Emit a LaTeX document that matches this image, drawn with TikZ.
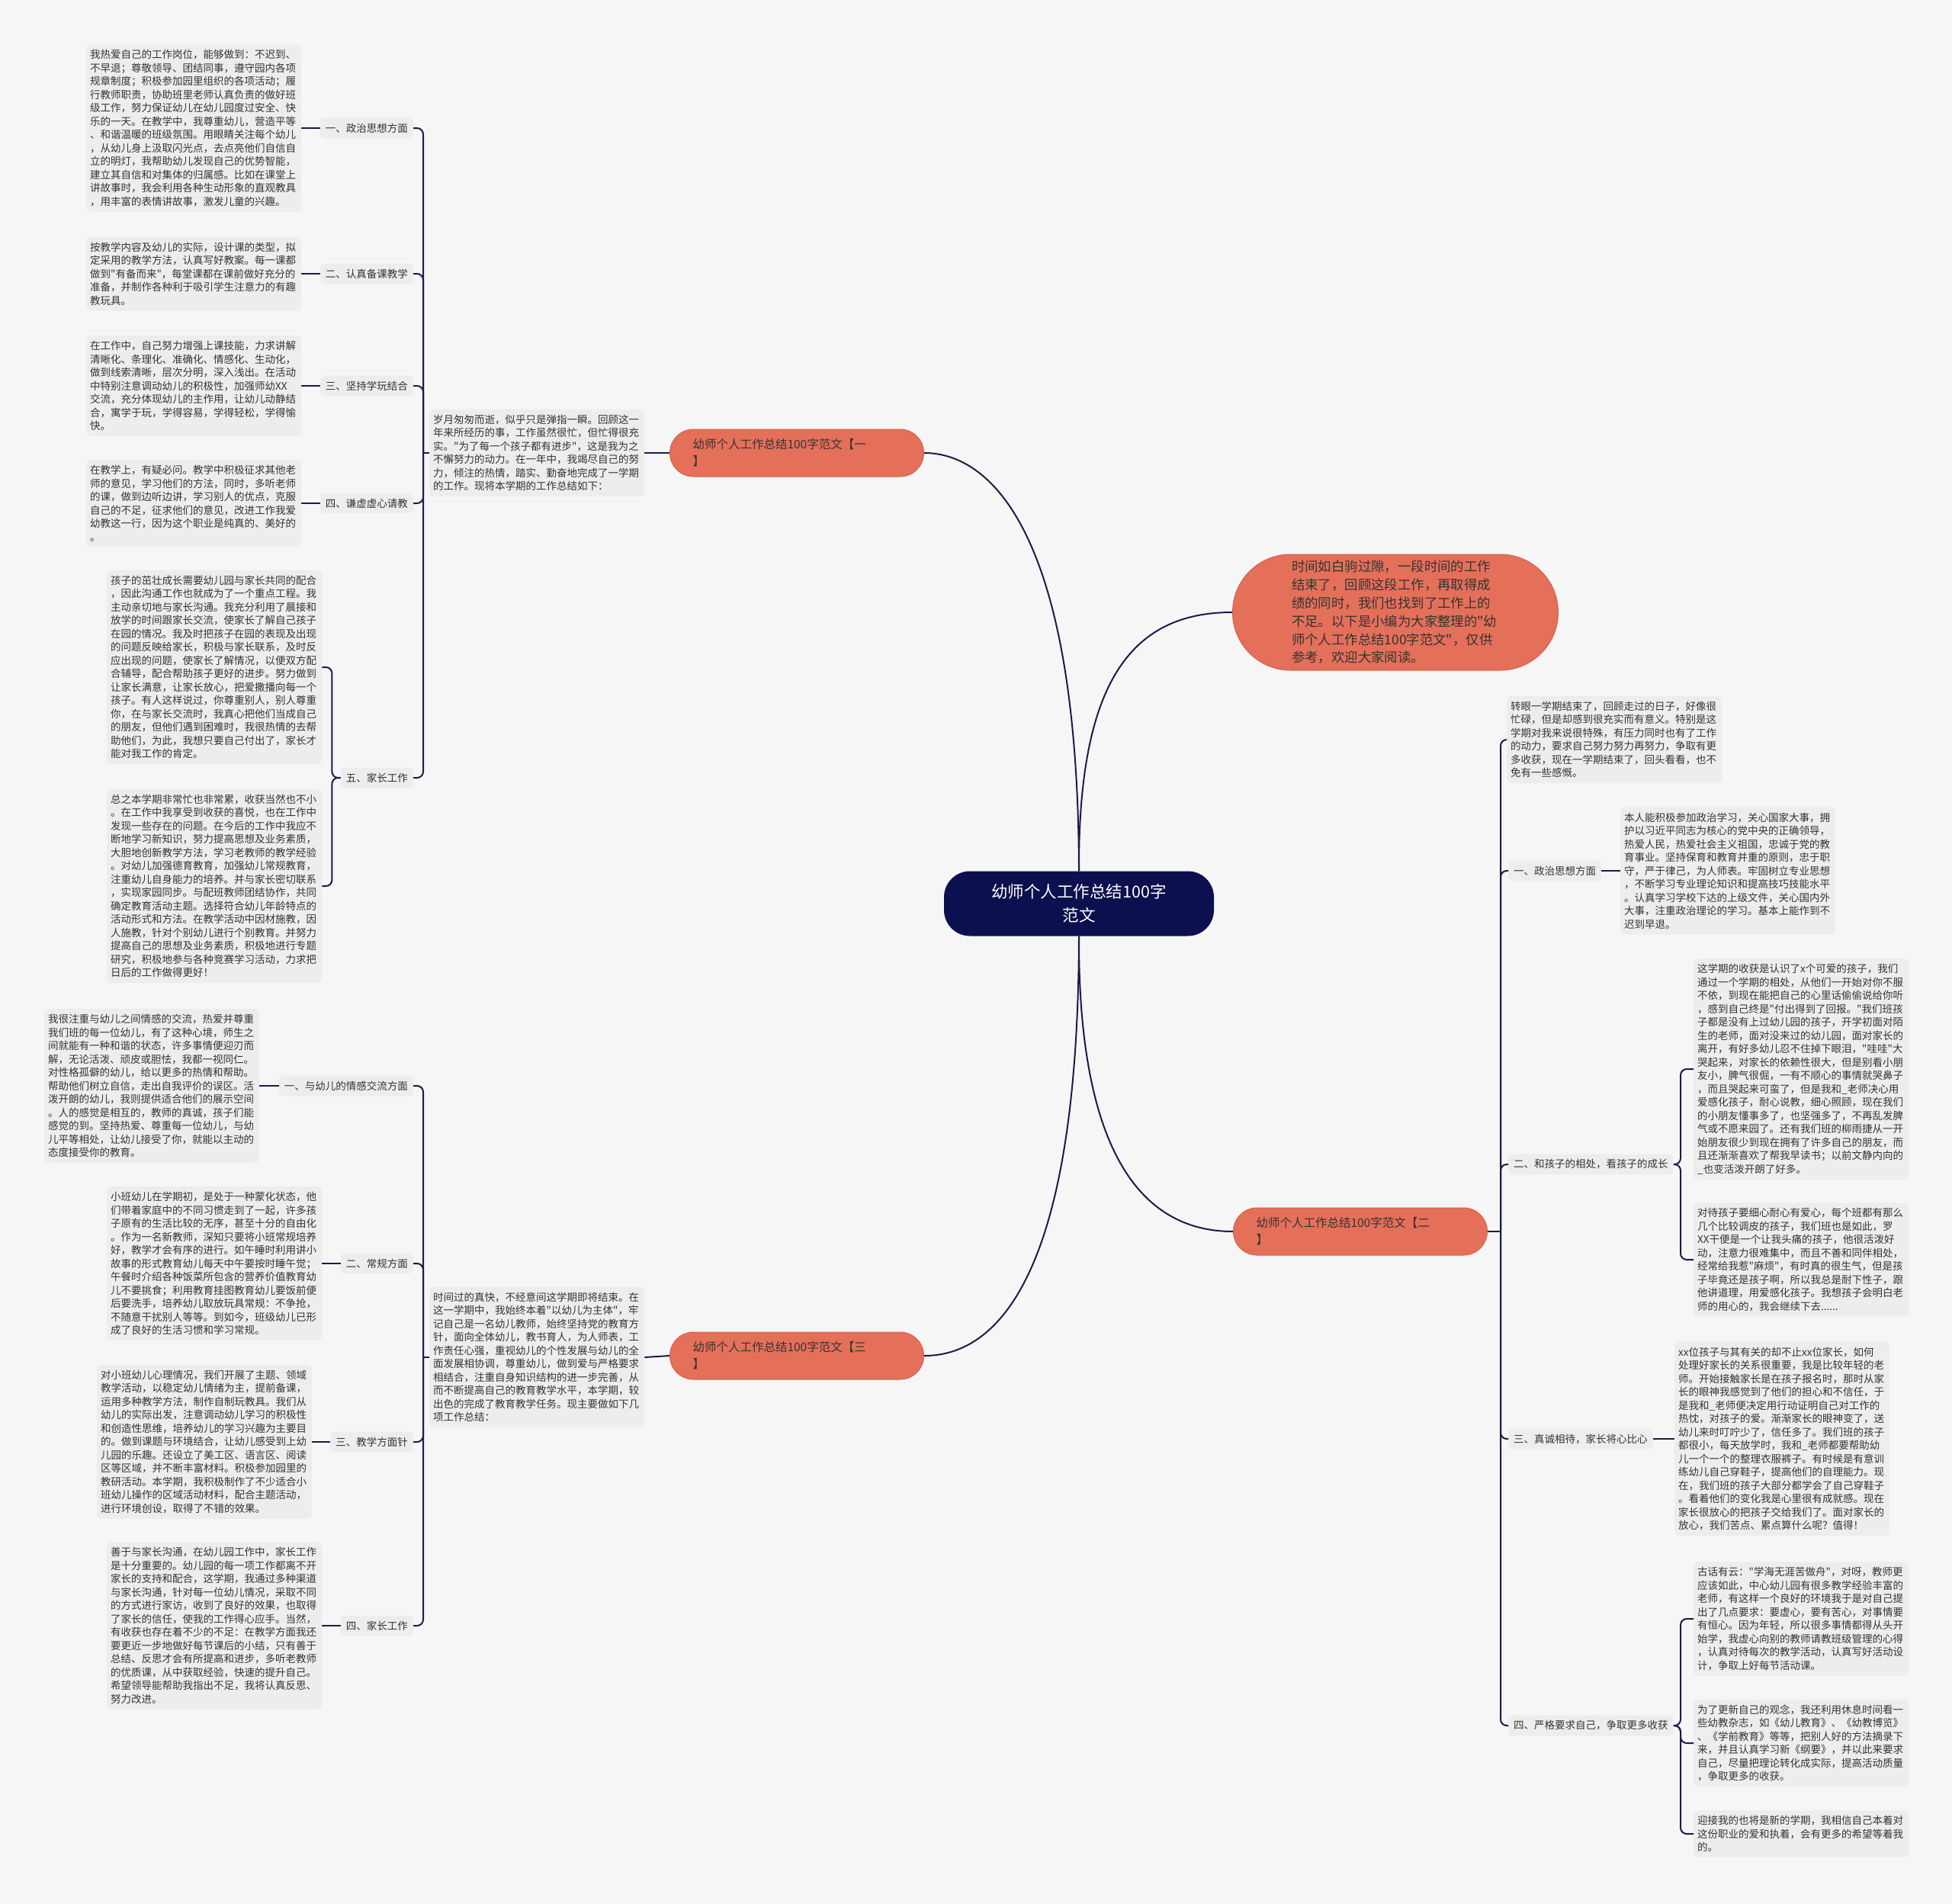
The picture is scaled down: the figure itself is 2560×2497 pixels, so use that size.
\documentclass[tikz,border=0pt]{standalone}
\usepackage{fontspec}
\setmainfont{Noto Sans CJK SC}[Ligatures=TeXOff]
\usepackage{tikz}
\definecolor{mapnavy}{RGB}{12,16,78}
\definecolor{mapline}{RGB}{26,28,74}
\definecolor{maporange}{RGB}{228,112,90}
\definecolor{mapedge}{RGB}{214,98,78}
\definecolor{mapbg}{RGB}{246,246,246}
\definecolor{mapbox}{RGB}{237,237,237}
\definecolor{maptext}{RGB}{51,51,51}
\tikzset{
    link/.style={draw=mapline, line width=2pt, rounded corners=8pt},
    detail/.style={anchor=west, fill=mapbox, rounded corners=6pt, text width=272pt, inner xsep=5pt, inner ysep=7pt, align=left, text=maptext, font=\fontsize{13.5}{17.5}\selectfont},
    tag/.style={fill=mapbox, rounded corners=6pt, inner xsep=7pt, inner ysep=7pt, text=maptext, font=\fontsize{13.5}{17.5}\selectfont}
}

\begin{document}
\begin{tikzpicture}[
    x=1pt, y=-1pt,
    topic/.style={fill=maporange, draw=mapedge, line width=1pt, rounded corners=31pt, minimum width=333pt, minimum height=62pt, text width=273pt, align=left, inner sep=0pt, text=maptext, font=\fontsize{15.5}{22}\selectfont},
    root/.style={fill=mapnavy, text=white, rounded corners=34pt, minimum width=354pt, minimum height=85pt, align=center, font=\fontsize{21.5}{31}\selectfont},
    lead/.style={fill=maporange, draw=mapedge, line width=1pt, rounded corners=76pt, minimum width=427pt, minimum height=152pt, text width=272pt, align=left, inner sep=0pt, text=maptext, font=\fontsize{17.4}{23.8}\selectfont}
]
    \useasboundingbox (0,0) rectangle (2560,2497);
    \fill[mapbg] (0,0) rectangle (2560,2497);

    % Centre and main topics
    \node[root] (main) at (1415,1185) {幼师个人工作总结100字\\范文};
    \node[lead] (intro) at (1830,803) {时间如白驹过隙，一段时间的工作\\结束了，回顾这段工作，再取得成\\绩的同时，我们也找到了工作上的\\不足。以下是小编为大家整理的"幼\\师个人工作总结100字范文"，仅供\\参考，欢迎大家阅读。};
    \node[topic] (one) at (1045,594) {幼师个人工作总结100字范文【一\\】};
    \node[topic] (two) at (1784,1615) {幼师个人工作总结100字范文【二\\】};
    \node[topic] (three) at (1045,1778) {幼师个人工作总结100字范文【三\\】};

    \draw[link] (main.north) .. controls (1414,700) and (1300,594) .. (one.east);
    \draw[link] (main.north) .. controls (1414,900) and (1480,803) .. (intro.west);
    \draw[link] (main.south) .. controls (1414,1480) and (1480,1615) .. (two.west);
    \draw[link] (main.south) .. controls (1414,1690) and (1300,1778) .. (three.east);

    % Topic one
    \node[detail] (oneintro) at (563,594) {岁月匆匆而逝，似乎只是弹指一瞬。回顾这一\\年来所经历的事，工作虽然很忙，但忙得很充\\实。"为了每一个孩子都有进步"，这是我为之\\不懈努力的动力。在一年中，我竭尽自己的努\\力，倾注的热情，踏实、勤奋地完成了一学期\\的工作。现将本学期的工作总结如下：};
    \node[detail] (a1) at (113,168) {我热爱自己的工作岗位，能够做到：不迟到、\\不早退；尊敬领导、团结同事，遵守园内各项\\规章制度；积极参加园里组织的各项活动；履\\行教师职责，协助班里老师认真负责的做好班\\级工作，努力保证幼儿在幼儿园度过安全、快\\乐的一天。在教学中，我尊重幼儿，营造平等\\、和谐温暖的班级氛围。用眼睛关注每个幼儿\\，从幼儿身上汲取闪光点，去点亮他们自信自\\立的明灯，我帮助幼儿发现自己的优势智能，\\建立其自信和对集体的归属感。比如在课堂上\\讲故事时，我会利用各种生动形象的直观教具\\，用丰富的表情讲故事，激发儿童的兴趣。};
    \node[detail] (a2) at (113,359) {按教学内容及幼儿的实际，设计课的类型，拟\\定采用的教学方法，认真写好教案。每一课都\\做到"有备而来"，每堂课都在课前做好充分的\\准备，并制作各种利于吸引学生注意力的有趣\\教玩具。};
    \node[detail] (a3) at (113,506) {在工作中，自己努力增强上课技能，力求讲解\\清晰化、条理化、准确化、情感化、生动化，\\做到线索清晰，层次分明，深入浅出。在活动\\中特别注意调动幼儿的积极性，加强师幼XX\\交流，充分体现幼儿的主作用，让幼儿动静结\\合，寓学于玩，学得容易，学得轻松，学得愉\\快。};
    \node[detail] (a4) at (113,660) {在教学上，有疑必问。教学中积极征求其他老\\师的意见，学习他们的方法，同时，多听老师\\的课，做到边听边讲，学习别人的优点，克服\\自己的不足，征求他们的意见，改进工作我爱\\幼教这一行，因为这个职业是纯真的、美好的\\。};
    \node[detail] (a5a) at (140,875) {孩子的茁壮成长需要幼儿园与家长共同的配合\\，因此沟通工作也就成为了一个重点工程。我\\主动亲切地与家长沟通。我充分利用了晨接和\\放学的时间跟家长交流，使家长了解自己孩子\\在园的情况。我及时把孩子在园的表现及出现\\的问题反映给家长，积极与家长联系，及时反\\应出现的问题，使家长了解情况，以便双方配\\合辅导，配合帮助孩子更好的进步。努力做到\\让家长满意，让家长放心，把爱撒播向每一个\\孩子。有人这样说过，你尊重别人，别人尊重\\你，在与家长交流时，我真心把他们当成自己\\的朋友，但他们遇到困难时，我很热情的去帮\\助他们，为此，我想只要自己付出了，家长才\\能对我工作的肯定。};
    \node[detail] (a5b) at (140,1162) {总之本学期非常忙也非常累，收获当然也不小\\。在工作中我享受到收获的喜悦，也在工作中\\发现一些存在的问题。在今后的工作中我应不\\断地学习新知识，努力提高思想及业务素质，\\大胆地创新教学方法，学习老教师的教学经验\\。对幼儿加强德育教育，加强幼儿常规教育，\\注重幼儿自身能力的培养。并与家长密切联系\\，实现家园同步。与配班教师团结协作，共同\\确定教育活动主题。选择符合幼儿年龄特点的\\活动形式和方法。在教学活动中因材施教，因\\人施教，针对个别幼儿进行个别教育。并努力\\提高自己的思想及业务素质，积极地进行专题\\研究，积极地参与各种竞赛学习活动，力求把\\日后的工作做得更好！};

    \node[tag, anchor=east] (ta1) at (542,168) {一、政治思想方面};
    \node[tag, anchor=east] (ta2) at (542,359) {二、认真备课教学};
    \node[tag, anchor=east] (ta3) at (542,506) {三、坚持学玩结合};
    \node[tag, anchor=east] (ta4) at (542,660) {四、谦虚虚心请教};
    \node[tag, anchor=east] (ta5) at (542,1020) {五、家长工作};

    \coordinate (jone) at (555,594);
    \draw[link] (one.west) -- (oneintro.east);
    \draw[link] (oneintro.west) -- (jone);
    \foreach \t in {ta1,ta2,ta3,ta4,ta5}
        \draw[link] (\t.east) -| (jone);
    \foreach \b in {a1,a2,a3,a4}
        \draw[link] (\b.east) -- (t\b.west);
    \draw[link] (ta5.west) -| ([xshift=13pt]a5a.east) -- (a5a.east);
    \draw[link] (ta5.west) -| ([xshift=13pt]a5b.east) -- (a5b.east);

    % Topic two
    \node[detail] (twointro) at (1976,970) {转眼一学期结束了，回顾走过的日子，好像很\\忙碌，但是却感到很充实而有意义。特别是这\\学期对我来说很特殊，有压力同时也有了工作\\的动力，要求自己努力努力再努力，争取有更\\多收获，现在一学期结束了，回头看看，也不\\免有一些感慨。};
    \node[tag, anchor=west] (tr1) at (1978,1142) {一、政治思想方面};
    \node[tag, anchor=west] (tr2) at (1978,1527) {二、和孩子的相处，看孩子的成长};
    \node[tag, anchor=west] (tr3) at (1978,1887) {三、真诚相待，家长将心比心};
    \node[tag, anchor=west] (tr4) at (1978,2263) {四、严格要求自己，争取更多收获};

    \node[detail] (r1) at (2125,1142) {本人能积极参加政治学习，关心国家大事，拥\\护以习近平同志为核心的党中央的正确领导，\\热爱人民，热爱社会主义祖国，忠诚于党的教\\育事业。坚持保育和教育并重的原则，忠于职\\守，严于律己，为人师表。牢固树立专业思想\\，不断学习专业理论知识和提高技巧技能水平\\。认真学习学校下达的上级文件，关心国内外\\大事，注重政治理论的学习。基本上能作到不\\迟到早退。};
    \node[detail] (r2a) at (2221,1402) {这学期的收获是认识了x个可爱的孩子，我们\\通过一个学期的相处，从他们一开始对你不服\\不依，到现在能把自己的心里话偷偷说给你听\\，感到自己终是"付出得到了回报。"我们班孩\\子都是没有上过幼儿园的孩子，开学初面对陌\\生的老师，面对没来过的幼儿园，面对家长的\\离开，有好多幼儿忍不住掉下眼泪，"哇哇"大\\哭起来，对家长的依赖性很大，但是别看小朋\\友小，脾气很倔，一有不顺心的事情就哭鼻子\\，而且哭起来可蛮了，但是我和\_老师决心用\\爱感化孩子，耐心说教，细心照顾，现在我们\\的小朋友懂事多了，也坚强多了，不再乱发脾\\气或不愿来园了。还有我们班的柳雨捷从一开\\始朋友很少到现在拥有了许多自己的朋友，而\\且还渐渐喜欢了帮我早读书；以前文静内向的\\\_也变活泼开朗了好多。};
    \node[detail] (r2b) at (2221,1652) {对待孩子要细心耐心有爱心，每个班都有那么\\几个比较调皮的孩子，我们班也是如此，罗\\XX干便是一个让我头痛的孩子，他很活泼好\\动，注意力很难集中，而且不善和同伴相处，\\经常给我惹"麻烦"，有时真的很生气，但是孩\\子毕竟还是孩子啊，所以我总是耐下性子，跟\\他讲道理，用爱感化孩子。我想孩子会明白老\\师的用心的，我会继续下去......};
    \node[detail] (r3) at (2196,1887) {xx位孩子与其有关的却不止xx位家长，如何\\处理好家长的关系很重要，我是比较年轻的老\\师。开始接触家长是在孩子报名时，那时从家\\长的眼神我感觉到了他们的担心和不信任，于\\是我和\_老师便决定用行动证明自己对工作的\\热忱，对孩子的爱。渐渐家长的眼神变了，送\\幼儿来时叮咛少了，信任多了。我们班的孩子\\都很小，每天放学时，我和\_老师都要帮助幼\\儿一个一个的整理衣服裤子。有时候是有意训\\练幼儿自己穿鞋子，提高他们的自理能力。现\\在，我们班的孩子大部分都学会了自己穿鞋子\\。看着他们的变化我是心里很有成就感。现在\\家长很放心的把孩子交给我们了。面对家长的\\放心，我们苦点、累点算什么呢？值得！};
    \node[detail] (r4a) at (2221,2123) {古话有云："学海无涯苦做舟"，对呀，教师更\\应该如此，中心幼儿园有很多教学经验丰富的\\老师，有这样一个良好的环境我于是对自己提\\出了几点要求：要虚心，要有苦心，对事情要\\有恒心。因为年轻，所以很多事情都得从头开\\始学，我虚心向别的教师请教班级管理的心得\\，认真对待每次的教学活动，认真写好活动设\\计，争取上好每节活动课。};
    \node[detail] (r4b) at (2221,2286) {为了更新自己的观念，我还利用休息时间看一\\些幼教杂志，如《幼儿教育》、《幼教博览》\\、《学前教育》等等，把别人好的方法摘录下\\来，并且认真学习新《纲要》，并以此来要求\\自己，尽量把理论转化成实际，提高活动质量\\，争取更多的收获。};
    \node[detail] (r4c) at (2221,2405) {迎接我的也将是新的学期，我相信自己本着对\\这份职业的爱和执着，会有更多的希望等着我\\的。};

    \coordinate (jtwo) at (1968,1615);
    \draw[link] (two.east) -- (jtwo);
    \foreach \t in {twointro,tr1,tr2,tr3,tr4}
        \draw[link] (\t.west) -| (jtwo);
    \draw[link] (tr1.east) -- (r1.west);
    \draw[link] (tr3.east) -- (r3.west);
    \foreach \b in {r2a,r2b}
        \draw[link] (tr2.east) -| ([xshift=-17pt]\b.west) -- (\b.west);
    \foreach \b in {r4a,r4b,r4c}
        \draw[link] (tr4.east) -| ([xshift=-17pt]\b.west) -- (\b.west);

    % Topic three
    \node[detail] (threeintro) at (563,1780) {时间过的真快，不经意间这学期即将结束。在\\这一学期中，我始终本着"以幼儿为主体"，牢\\记自己是一名幼儿教师，始终坚持党的教育方\\针，面向全体幼儿，教书育人，为人师表，工\\作责任心强，重视幼儿的个性发展与幼儿的全\\面发展相协调，尊重幼儿，做到爱与严格要求\\相结合，注重自身知识结构的进一步完善，从\\而不断提高自己的教育教学水平，本学期，较\\出色的完成了教育教学任务。现主要做如下几\\项工作总结：};
    \node[detail] (b1) at (58,1424) {我很注重与幼儿之间情感的交流，热爱并尊重\\我们班的每一位幼儿，有了这种心境，师生之\\间就能有一种和谐的状态，许多事情便迎刃而\\解，无论活泼、顽皮或胆怯，我都一视同仁。\\对性格孤僻的幼儿，给以更多的热情和帮助。\\帮助他们树立自信，走出自我评价的误区。活\\泼开朗的幼儿，我则提供适合他们的展示空间\\。人的感觉是相互的，教师的真诚，孩子们能\\感觉的到。坚持热爱、尊重每一位幼儿，与幼\\儿平等相处，让幼儿接受了你，就能以主动的\\态度接受你的教育。};
    \node[detail] (b2) at (140,1657) {小班幼儿在学期初，是处于一种蒙化状态，他\\们带着家庭中的不同习惯走到了一起，许多孩\\子原有的生活比较的无序，甚至十分的自由化\\。作为一名新教师，深知只要将小班常规培养\\好，教学才会有序的进行。如午睡时利用讲小\\故事的形式教育幼儿每天中午要按时睡午觉；\\午餐时介绍各种饭菜所包含的营养价值教育幼\\儿不要挑食；利用教育挂图教育幼儿要饭前便\\后要洗手，培养幼儿取放玩具常规：不争抢，\\不随意干扰别人等等。到如今，班级幼儿已形\\成了良好的生活习惯和学习常规。};
    \node[detail] (b3) at (127,1891) {对小班幼儿心理情况，我们开展了主题、领域\\教学活动，以稳定幼儿情绪为主，提前备课，\\运用多种教学方法，制作自制玩教具。我们从\\幼儿的实际出发，注意调动幼儿学习的积极性\\和创造性思维，培养幼儿的学习兴趣为主要目\\的。做到课题与环境结合，让幼儿感受到上幼\\儿园的乐趣。还设立了美工区、语言区、阅读\\区等区域，并不断丰富材料。积极参加园里的\\教研活动。本学期，我积极制作了不少适合小\\班幼儿操作的区域活动材料，配合主题活动，\\进行环境创设，取得了不错的效果。};
    \node[detail] (b4) at (140,2132) {善于与家长沟通，在幼儿园工作中，家长工作\\是十分重要的。幼儿园的每一项工作都离不开\\家长的支持和配合，这学期，我通过多种渠道\\与家长沟通，针对每一位幼儿情况，采取不同\\的方式进行家访，收到了良好的效果，也取得\\了家长的信任，使我的工作得心应手。当然，\\有收获也存在着不少的不足：在教学方面我还\\要更近一步地做好每节课后的小结，只有善于\\总结、反思才会有所提高和进步，多听老教师\\的优质课，从中获取经验，快速的提升自己。\\希望领导能帮助我指出不足，我将认真反思、\\努力改进。};

    \node[tag, anchor=east] (tb1) at (542,1424) {一、与幼儿的情感交流方面};
    \node[tag, anchor=east] (tb2) at (542,1657) {二、常规方面};
    \node[tag, anchor=east] (tb3) at (542,1891) {三、教学方面针};
    \node[tag, anchor=east] (tb4) at (542,2132) {四、家长工作};

    \coordinate (jthree) at (555,1780);
    \draw[link] (three.west) -- (threeintro.east);
    \draw[link] (threeintro.west) -- (jthree);
    \foreach \t in {tb1,tb2,tb3,tb4}
        \draw[link] (\t.east) -| (jthree);
    \foreach \b in {b1,b2,b3,b4}
        \draw[link] (\b.east) -- (t\b.west);

\end{tikzpicture}
\end{document}
